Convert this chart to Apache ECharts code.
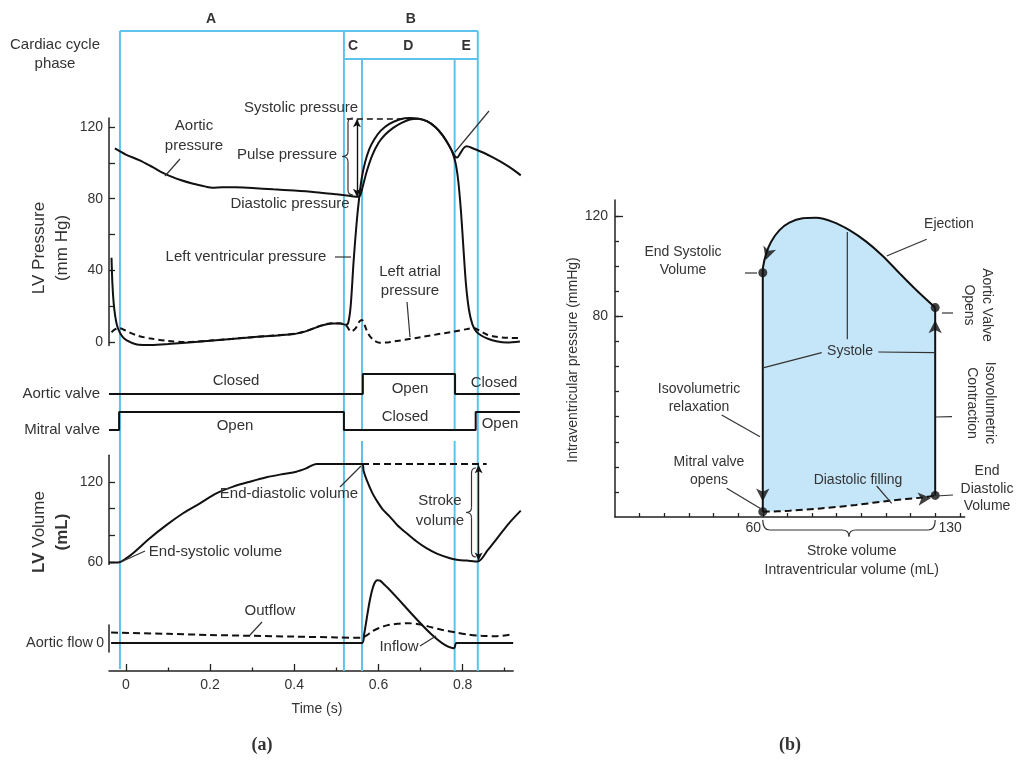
<!DOCTYPE html>
<html><head><meta charset="utf-8">
<script src="https://cdn.jsdelivr.net/npm/echarts@6/dist/echarts.min.js"></script>
<style>html,body{margin:0;padding:0;background:#fff}#c{width:1016px;height:762px}</style>
</head><body><div id="c"></div>
<script>
const FF = '"Liberation Sans", Arial, Helvetica, sans-serif';

// ---------- Panel (a): Wiggers diagram data (time in s) ----------
const phaseTimes = [-0.014, 0.518, 0.561, 0.781, 0.836];
const timeTicks = [0, 0.2, 0.4, 0.6, 0.8];
const timeMinorTicks = [0.1, 0.3, 0.5, 0.7, 0.9];
const pressureTickLabels = [0, 40, 80, 120];
const pressureTicks = [0, 20, 40, 60, 80, 100, 120];
const volumeTickLabels = [60, 120];
const volumeTicks = [60, 80, 100, 120];
const flowTickLabels = [0];

const aorticPressure = [
[-0.026,108],[0,104.6],[0.033,101.4],[0.065,97.4],[0.097,93.4],[0.13,90.4],[0.16,88.3],[0.19,86.7],[0.205,86.1],[0.23,86.4],[0.26,86.3],[0.3,85.9],[0.35,85.2],[0.4,84.5],[0.45,83.6],[0.5,82.4],[0.53,81.6],[0.552,81],[0.557,82],[0.563,87],[0.572,95],[0.585,104],[0.6,111],[0.615,115.5],[0.635,119.5],[0.655,122.3],[0.675,124.2],[0.695,124.6],[0.715,123.2],[0.735,120],[0.752,115.5],[0.767,110],[0.777,105.5],[0.782,103.4],[0.787,103],[0.795,105.5],[0.803,108.3],[0.81,109.2],[0.825,108],[0.85,105.6],[0.875,102.6],[0.9,99.3],[0.92,96.2],[0.938,93]
];
const lvPressure = [
[-0.034,47],[-0.032,33],[-0.029,22],[-0.025,14],[-0.02,8.5],[-0.013,4.8],[-0.004,2],[0.01,0],[0.03,-1.5],[0.06,-1.6],[0.1,-1.1],[0.2,0.7],[0.3,2.6],[0.4,4.5],[0.425,5.8],[0.445,7.5],[0.465,9.2],[0.49,10.4],[0.51,10.3],[0.522,9.7],[0.528,10.5],[0.534,20],[0.541,45],[0.548,66],[0.554,80],[0.56,91],[0.568,100],[0.578,107.5],[0.59,113],[0.605,117.8],[0.625,121.6],[0.65,124.2],[0.675,125],[0.695,124.6],[0.715,123.2],[0.735,120],[0.752,115.5],[0.767,110],[0.777,105],[0.784,99],[0.79,89],[0.796,73],[0.802,52],[0.808,32],[0.815,18],[0.823,10],[0.832,6],[0.845,3.5],[0.86,1.8],[0.88,0.4],[0.905,-0.3],[0.936,0.3]
];
const laPressure = [
[-0.034,5.5],[-0.026,7],[-0.016,7.8],[-0.006,7],[0.008,5.4],[0.03,3.4],[0.06,1.9],[0.1,0.6],[0.14,0],[0.2,0.8],[0.3,2.7],[0.4,4.6],[0.425,5.9],[0.445,7.6],[0.465,9.3],[0.49,10.5],[0.51,10.4],[0.524,9],[0.535,5.8],[0.546,7.8],[0.555,11.5],[0.561,12.3],[0.567,9.5],[0.576,4.5],[0.588,1.2],[0.603,-0.4],[0.625,-0.1],[0.7,2.7],[0.78,5.9],[0.81,7.2],[0.826,7.8],[0.84,6.4],[0.857,4.2],[0.88,2.9],[0.91,2.3],[0.936,2.2]
];
const systolicLevel = 124.8;
const diastolicLevel = 81;

// valve state: 0 = closed, 1 = open
const aorticValve = [[-0.04,0],[0.563,0],[0.563,1],[0.782,1],[0.782,0],[0.936,0]];
const mitralValve = [[-0.04,0],[-0.016,0],[-0.016,1],[0.518,1],[0.518,0],[0.831,0],[0.831,1],[0.936,1]];

const lvVolume = [
[-0.04,59.5],[-0.015,59.8],[0,62.5],[0.017,66.5],[0.057,77.8],[0.097,87.8],[0.136,96.5],[0.176,104],[0.215,111.5],[0.255,116.5],[0.295,120.2],[0.334,123.5],[0.374,126],[0.405,127.7],[0.429,130.3],[0.453,133.5],[0.561,133.5],[0.565,128],[0.572,121.5],[0.585,112],[0.595,106.5],[0.61,99.5],[0.627,94],[0.645,87.5],[0.667,81.5],[0.69,75.5],[0.714,70.3],[0.74,66],[0.77,62.8],[0.79,61.5],[0.81,61],[0.836,60.3],[0.86,69],[0.885,79],[0.91,89],[0.938,98.5]
];
const endDiastolicVolume = 133.5;
const endSystolicVolume = 60.5;

const aorticFlow = [[-0.035,0],[0.561,0],[0.566,2.2],[0.572,6],[0.578,9.8],[0.584,12.8],[0.59,14.8],[0.597,15.7],[0.604,15.6],[0.615,14.5],[0.78,-1.3],[0.785,0],[0.92,0]];
const outflow = [[-0.035,2.6],[0.1,2.3],[0.2,2.0],[0.3,1.8],[0.4,1.6],[0.5,1.4],[0.561,1.3],[0.572,1.9],[0.585,2.9],[0.6,3.7],[0.62,4.4],[0.645,4.8],[0.67,4.95],[0.695,4.7],[0.72,4.1],[0.75,3.3],[0.785,2.6],[0.815,2.1],[0.845,1.8],[0.88,1.7],[0.9,1.9],[0.92,2.2]];

// ---------- Panel (b): pressure-volume loop (mL, mmHg) ----------
const pvVolumeTicks = [10,20,30,40,50,60,70,80,90,100,110,120,130,140];
const pvVolumeLabels = [60, 130];
const pvPressureTicks = [10,20,30,40,50,60,70,80,90,100,110,120];
const pvPressureLabels = [80, 120];
const pvEjection = [[130,83.5],[122.3,90.5],[115.5,97.2],[108.7,104.1],[102,109.8],[95.2,114.4],[88.4,117.7],[81.7,119.3],[76.2,119.1],[70.8,117.4],[66.8,114.4],[63.4,109.8],[61.4,105.1],[60.1,99.6],[60,97.4]];
const pvRelaxation = [[60,97.4],[60,2.1]];
const pvFilling = [[60,2.1],[70.8,2.5],[84.3,3.5],[97.8,4.8],[111.4,6.5],[124.9,7.8],[130,8.6]];
const pvContraction = [[130,8.6],[130,83.5]];
const pvPoints = [[60,97.4],[60,2.1],[130,8.6],[130,83.5]];
const pvArrows = [[61.2,102.5,162],[60,6.2,180],[128.3,7.6,-85],[130,78.5,0]];

// ---------- chart ----------
const chart = echarts.init(document.getElementById('c'), null, {renderer:'canvas'});
const INK = '#111', TXT = '#333', GRAY = '#333';
const tmin = -0.04, tmax = 0.94;
const pxPerS = 421;
const gw = (tmax - tmin) * pxPerS;

function hiddenX(g, max){ return {type:'value', gridIndex:g, min:tmin, max:max||tmax, show:false, axisLine:{onZero:false}}; }
function hiddenY(g, min, max){ return {type:'value', gridIndex:g, min, max, show:false, axisLine:{onZero:false}}; }
function lab(vals, extra){ return Object.assign({customValues:vals, color:TXT, fontSize:14, fontFamily:FF}, extra||{}); }
const axLine = {show:true, onZero:false, lineStyle:{color:'#222', width:1.5}};
function ticks(vals, len){ return {show:true, inside:true, length:len, customValues:vals, lineStyle:{color:'#222', width:1.3}}; }

const lineBase = {type:'line', showSymbol:false, symbol:'none', clip:false, silent:true, lineStyle:{color:INK, width:2}};
function L(o){ return Object.assign({}, lineBase, o, {lineStyle:Object.assign({}, lineBase.lineStyle, o.lineStyle||{})}); }

const loopOutline = pvEjection.concat(pvRelaxation, pvFilling, pvContraction);

const option = {
  animation:false,
  backgroundColor:'#fff',
  textStyle:{fontFamily:FF},
  grid:[
    {left:109, top:118, width:gw, height:227.6},
    {left:109, top:374, width:gw, height:20},
    {left:109, top:412, width:gw, height:18},
    {left:109, top:455.3, width:gw, height:109.3},
    {left:109, top:575, width:(0.92 - tmin) * pxPerS, height:96},
    {left:109, top:625, width:10, height:27},
    {left:615, top:200, width:142 * 2.463, height:317}
  ].map(g => Object.assign({outerBoundsMode:'none'}, g)),
  xAxis:[
    hiddenX(0), hiddenX(1), hiddenX(2), hiddenX(3),
    {type:'value', gridIndex:4, min:tmin, max:0.92, position:'bottom',
      axisLine:axLine, axisTick:ticks(timeTicks, 7),
      axisLabel:lab(timeTicks, {margin:7, formatter: v => String(v)}), splitLine:{show:false}},
    {type:'value', gridIndex:4, min:tmin, max:0.92, position:'bottom', offset:0,
      axisLine:{show:false, onZero:false}, axisTick:ticks(timeMinorTicks, 3.5), axisLabel:{show:false}, splitLine:{show:false}},
    {type:'value', gridIndex:5, min:0, max:1, show:false, axisLine:{onZero:false}},
    {type:'value', gridIndex:6, min:0, max:142, position:'bottom',
      axisLine:axLine, axisTick:ticks(pvVolumeTicks, 4),
      axisLabel:lab(pvVolumeLabels, {margin:4, formatter: v => v === 60 ? '{l|60}' : '{r|130}',
        rich:{l:{padding:[0,19,0,0], fontSize:14, fontFamily:FF, color:TXT}, r:{padding:[0,0,0,30], fontSize:14, fontFamily:FF, color:TXT}}}),
      splitLine:{show:false}}
  ],
  yAxis:[
    {type:'value', gridIndex:0, min:-2, max:125, position:'left', axisLine:axLine, axisTick:ticks(pressureTicks, 6),
      axisLabel:lab(pressureTickLabels, {margin:6}), splitLine:{show:false}},
    hiddenY(1, 0, 1),
    hiddenY(2, 0, 1),
    {type:'value', gridIndex:3, min:58, max:140, position:'left', axisLine:axLine, axisTick:ticks(volumeTicks, 6),
      axisLabel:lab(volumeTickLabels, {margin:6}), splitLine:{show:false}},
    hiddenY(4, -7, 17),
    {type:'value', gridIndex:5, min:-2.25, max:4.5, position:'left', axisLine:axLine, axisTick:{show:false},
      axisLabel:lab(flowTickLabels, {margin:5}), splitLine:{show:false}},
    {type:'value', gridIndex:6, min:0, max:126.4, position:'left', axisLine:axLine, axisTick:ticks(pvPressureLabels, 8),
      axisLabel:lab(pvPressureLabels, {margin:7}), splitLine:{show:false}},
    {type:'value', gridIndex:6, min:0, max:126.4, position:'left', offset:0, axisLine:{show:false, onZero:false},
      axisTick:ticks(pvPressureTicks, 4), axisLabel:{show:false}, splitLine:{show:false}}
  ],
  series:[
    L({name:'Aortic pressure', xAxisIndex:0, yAxisIndex:0, data:aorticPressure, smooth:0.3}),
    L({name:'Left ventricular pressure', xAxisIndex:0, yAxisIndex:0, data:lvPressure, smooth:0.3,
      markLine:{silent:true, animation:false, symbol:['none','none'], label:{show:false},
        data:[
          [{coord:[0.525, systolicLevel], lineStyle:{type:[6,4], color:INK, width:1.5}}, {coord:[0.672, systolicLevel]}],
          [{coord:[0.549, systolicLevel - 0.5], symbol:'arrow', symbolSize:[6,8], lineStyle:{type:'solid', color:INK, width:1.4}},
           {coord:[0.549, diastolicLevel], symbol:'arrow', symbolSize:[6,8]}]
        ]}}),
    L({name:'Left atrial pressure', xAxisIndex:0, yAxisIndex:0, data:laPressure, smooth:0.3, lineStyle:{type:[6,4]}}),
    L({name:'Aortic valve', xAxisIndex:1, yAxisIndex:1, data:aorticValve}),
    L({name:'Mitral valve', xAxisIndex:2, yAxisIndex:2, data:mitralValve}),
    L({name:'LV volume', xAxisIndex:3, yAxisIndex:3, data:lvVolume, smooth:0.3,
      markLine:{silent:true, animation:false, symbol:['none','none'], label:{show:false},
        data:[
          [{coord:[0.561, endDiastolicVolume], lineStyle:{type:[7,4], color:INK, width:2}}, {coord:[0.857, endDiastolicVolume]}],
          [{coord:[0.838, endDiastolicVolume - 1], symbol:'arrow', symbolSize:[6,8], lineStyle:{type:'solid', color:INK, width:1.4}},
           {coord:[0.838, endSystolicVolume + 0.5], symbol:'arrow', symbolSize:[6,8]}]
        ]}}),
    L({name:'Aortic flow', xAxisIndex:4, yAxisIndex:4, data:aorticFlow, smooth:0.25}),
    L({name:'Outflow', xAxisIndex:4, yAxisIndex:4, data:outflow, smooth:0.3, lineStyle:{type:[7,4]}}),
    {type:'custom', name:'PV loop area', xAxisIndex:7, yAxisIndex:6, silent:true, z:1,
      data:[[95, 50]],
      renderItem:(params, api) => ({type:'polygon', shape:{points: loopOutline.map(p => api.coord(p))},
        style:{fill:'#c5e6f9'}})},
    L({name:'Ejection', xAxisIndex:7, yAxisIndex:6, data:pvEjection, smooth:0.3}),
    L({name:'Isovolumetric relaxation', xAxisIndex:7, yAxisIndex:6, data:pvRelaxation}),
    L({name:'Diastolic filling', xAxisIndex:7, yAxisIndex:6, data:pvFilling, smooth:0.3, lineStyle:{type:[7,4]}}),
    L({name:'Isovolumetric contraction', xAxisIndex:7, yAxisIndex:6, data:pvContraction}),
    {type:'scatter', xAxisIndex:7, yAxisIndex:6, data:pvPoints, symbol:'circle', symbolSize:9, silent:true, z:5,
      itemStyle:{color:INK}},
    {type:'scatter', xAxisIndex:7, yAxisIndex:6, silent:true, z:5, symbol:'arrow', symbolSize:[10,13],
      itemStyle:{color:INK},
      data:pvArrows.map(a => ({value:[a[0], a[1]], symbolRotate:a[2]}))}
  ]
};
chart.setOption(option);

// ---------- annotations ----------
function T(text, x, y, o){
  o = o || {};
  const size = o.size || 15;
  const st = {text, fill:o.color||TXT, font:(o.bold?'bold ':'') + size + 'px ' + (o.family||FF),
    textAlign:o.align||'center', align:o.align||'center', textVerticalAlign:'middle', verticalAlign:'middle'};
  if (o.lh) st.lineHeight = o.lh;
  if (o.rich) st.rich = o.rich;
  return {type:'text', x, y, rotation:o.rot||0, z:100, silent:true, style:st};
}
function Ln(x1,y1,x2,y2,c,w,z){ return {type:'line', z:z||90, silent:true, shape:{x1,y1,x2,y2}, style:{stroke:c||GRAY, lineWidth:w||1.2}}; }
function Q(x1,y1,cx,cy,x2,y2){ return {type:'bezierCurve', z:90, silent:true, shape:{x1,y1,x2,y2,cpx1:cx,cpy1:cy}, style:{stroke:GRAY, lineWidth:1.2, fill:null}}; }
function braceLeft(bodyX, endX, tipX, y0, y1){
  const ym = (y0+y1)/2, r = 5;
  return [Q(endX,y0,bodyX,y0,bodyX,y0+r), Ln(bodyX,y0+r,bodyX,ym-r), Q(bodyX,ym-r,bodyX,ym,tipX,ym),
          Q(tipX,ym,bodyX,ym,bodyX,ym+r), Ln(bodyX,ym+r,bodyX,y1-r), Q(bodyX,y1-r,bodyX,y1,endX,y1)];
}
function braceDown(x0, x1, endY, bodyY, tipY){
  const xm = (x0+x1)/2, r = 7;
  return [Q(x0,endY,x0,bodyY,x0+r,bodyY), Ln(x0+r,bodyY,xm-r,bodyY), Q(xm-r,bodyY,xm,bodyY,xm,tipY),
          Q(xm,tipY,xm,bodyY,xm+r,bodyY), Ln(xm+r,bodyY,x1-r,bodyY), Q(x1-r,bodyY,x1,bodyY,x1,endY)];
}

const px = t => chart.convertToPixel({xAxisIndex:0}, t);
const xs = phaseTimes.map(px);
const BLUE = '#5ec3ec';
const g = [];
// phase boxes
g.push(Ln(xs[0],31,xs[4],31,BLUE,2,1), Ln(xs[1],59,xs[4],59,BLUE,2,1));
g.push(Ln(xs[0],31,xs[0],669,BLUE,2,1), Ln(xs[1],31,xs[1],671,BLUE,2,1), Ln(xs[4],31,xs[4],671,BLUE,2,1));
g.push(Ln(xs[2],59,xs[2],430,BLUE,2,1), Ln(xs[2],441,xs[2],671,BLUE,2,1));
g.push(Ln(xs[3],59,xs[3],430,BLUE,2,1), Ln(xs[3],441,xs[3],671,BLUE,2,1));
g.push(T('A', 211, 19, {bold:true, size:14}), T('B', (xs[1]+xs[4])/2, 19, {bold:true, size:14}),
       T('C', (xs[1]+xs[2])/2, 46, {bold:true, size:14}), T('D', (xs[2]+xs[3])/2, 46, {bold:true, size:14}),
       T('E', (xs[3]+xs[4])/2, 46, {bold:true, size:14}));
g.push(T('Cardiac cycle\nphase', 55, 54.5, {lh:19}));
// axis titles
g.push(T('LV Pressure\n(mm Hg)', 50.5, 248, {size:17, lh:23, rot:Math.PI/2}));
g.push(T('{b|LV} {n|Volume}\n{b|(mL)}', 51, 532, {size:17, lh:23, rot:Math.PI/2,
  rich:{b:{fontWeight:'bold', fontSize:17, fontFamily:FF, fill:TXT, color:TXT, lineHeight:23},
        n:{fontSize:17, fontFamily:FF, fill:TXT, color:TXT, lineHeight:23}}}));
g.push(T('Aortic valve', 100, 394, {align:'right'}), T('Mitral valve', 100, 430, {align:'right'}));
g.push(T('Aortic flow', 93, 643, {align:'right', size:14.5}));
g.push(T('Time (s)', 317, 709, {size:14}));
// pressure annotations
g.push(T('Systolic pressure', 301, 108), T('Aortic\npressure', 194, 136, {lh:20}),
       T('Pulse pressure', 287, 155), T('Diastolic pressure', 290, 204),
       T('Left ventricular pressure', 246, 257), T('Left atrial\npressure', 410, 281, {lh:19}));
g.push(Ln(165,176,180,159), Ln(335,257,351,257), Ln(407,302,410,337), Ln(455,152,489,111));
g.push(...braceLeft(348, 353, 342, 118, 195));
// valve labels
g.push(T('Closed', 236, 381), T('Open', 410, 389), T('Closed', 494, 383),
       T('Open', 235, 426), T('Closed', 405, 417), T('Open', 500, 424));
// volume annotations
g.push(T('End-diastolic volume', 289, 494), T('End-systolic volume', 215.5, 552), T('Stroke\nvolume', 440, 511, {lh:20}));
g.push(Ln(340,487,361,466), Ln(145,551,121,562));
g.push(...braceLeft(471.5, 476, 466, 468, 557));
// flow annotations
g.push(T('Outflow', 270, 611), T('Inflow', 399, 647));
g.push(Ln(250,635,262,622), Ln(420,646,436,636));
// panel (b)
const vx = v => chart.convertToPixel({xAxisIndex:7}, v);
g.push(T('Ejection', 949, 224, {size:14}), T('End Systolic\nVolume', 683, 261.5, {size:14, lh:18}),
       T('Systole', 850, 351, {size:14}), T('Isovolumetric\nrelaxation', 699, 398, {size:14, lh:18}),
       T('Mitral valve\nopens', 709, 471, {size:14, lh:18}), T('Diastolic filling', 858, 480, {size:14}),
       T('End\nDiastolic\nVolume', 987, 489, {size:14, lh:17.5}),
       T('Stroke volume', 851.7, 551, {size:14}), T('Intraventricular volume (mL)', 851.7, 570, {size:14}),
       T('Aortic Valve\nOpens', 978, 305, {size:14, lh:18, rot:-Math.PI/2}),
       T('Isovolumetric\nContraction', 981, 403, {size:14, lh:18, rot:-Math.PI/2}),
       T('Intraventricular pressure (mmHg)', 573, 360, {size:14, rot:Math.PI/2}));
g.push(Ln(926.7,239.3,886.7,256), Ln(745,273,757,273), Ln(942,313,953,313), Ln(936,417,952,416.7),
       Ln(936,496,953,495), Ln(821.7,352.7,764,367.7), Ln(878.3,352,935,352.7), Ln(847.3,232,847.3,339.3),
       Ln(721.7,415,760,436.7), Ln(726.7,488.3,760,508.3), Ln(876.7,486,891.7,503.3));
g.push(...braceDown(vx(60), vx(130), 520, 530, 536.5));
// panel captions
g.push(T('(a)', 262, 745, {bold:true, size:18, family:'"Liberation Serif", "Times New Roman", serif'}),
       T('(b)', 790, 745, {bold:true, size:18, family:'"Liberation Serif", "Times New Roman", serif'}));

chart.setOption({graphic:{elements:g}});
</script></body></html>
